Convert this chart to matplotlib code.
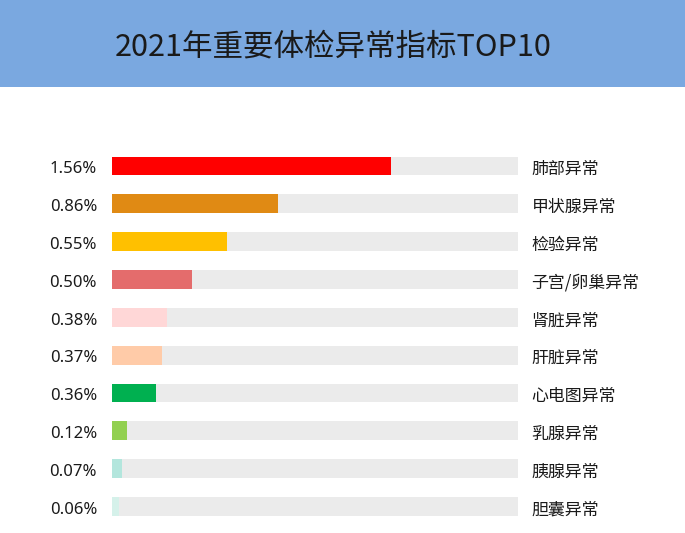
import matplotlib.pyplot as plt
from matplotlib.patches import Rectangle

plt.rcParams['font.family'] = ['Noto Sans CJK SC', 'DejaVu Sans']

# data
names = ["肺部异常", "甲状腺异常", "检验异常", "子宫/卵巢异常", "肾脏异常",
         "肝脏异常", "心电图异常", "乳腺异常", "胰腺异常", "胆囊异常"]
rates = [1.56, 0.86, 0.55, 0.50, 0.38, 0.37, 0.36, 0.12, 0.07, 0.06]
# drawn bar length as a share of the grey track (the bars are not to scale)
bar_len = [68.7, 40.9, 28.3, 19.7, 13.7, 12.3, 10.8, 3.7, 2.5, 1.9]
colors = ["#FF0000", "#E08A14", "#FFC000", "#E46C6C", "#FFD7D7",
          "#FFCBA8", "#00B050", "#92D050", "#B3E6DD", "#D5F1EA"]
title = "2021年重要体检异常指标TOP10"

W, H = 685, 533
fig = plt.figure(figsize=(W / 100, H / 100), dpi=100)

# blue banner with the title
fig.add_artist(Rectangle((0, 1 - 87 / H), 1, 87 / H, transform=fig.transFigure,
                         facecolor="#7AA8E0", edgecolor="none"))
fig.text(333 / W, 1 - 47 / H, title, ha="center", va="center",
         fontsize=22, color="#1A1A1A")

# axes covers the grey track area
left, right = 111.7 / W, 517.7 / W
top, bottom = 1 - 147.1 / H, 1 - 525.4 / H
ax = fig.add_axes([left, bottom, right - left, top - bottom])
ypos = list(range(len(names)))
ax.barh(ypos, [100] * len(names), height=0.5, color="#EBEBEB")
ax.barh(ypos, bar_len, height=0.5, color=colors)
ax.set_xlim(0, 100)
ax.set_ylim(len(names) - 0.5, -0.5)
ax.axis("off")

for y, r, n in zip(ypos, rates, names):
    ax.text(-3.6, y + 0.19, "%.2f%%" % r, ha="right", va="baseline", fontsize=12,
            color="#1A1A1A", family=["Noto Sans", "DejaVu Sans"])
    ax.text(103.4, y + 0.08, n, ha="left", va="center", fontsize=12.2, color="#1A1A1A")

fig.savefig("out.png", dpi=100)
